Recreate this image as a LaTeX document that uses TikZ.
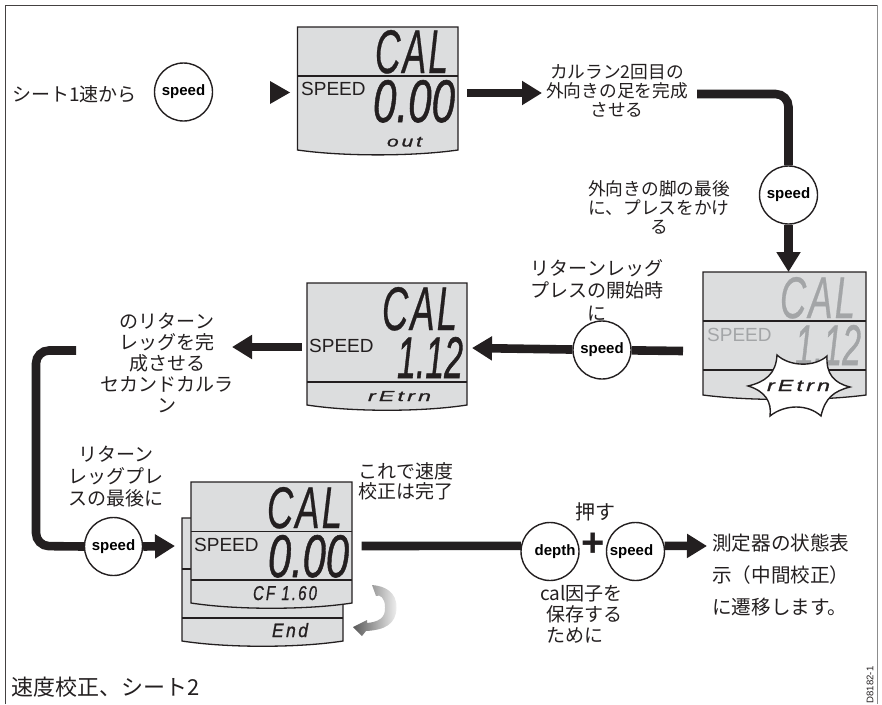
\documentclass[tikz,border=0pt]{standalone}
\usepackage{fontspec}
\usepackage{graphicx}
\usetikzlibrary{arrows.meta}
\setmainfont{Liberation Sans}
\newfontfamily\jp{Noto Sans CJK JP}
\newfontfamily\lcdbig{Liberation Sans}[LetterSpace=6,FakeBold=0.6]
\newfontfamily\lcdval{Liberation Sans}[FakeBold=1]
\newfontfamily\lcdsm{Liberation Sans}[LetterSpace=14,FakeBold=1]
\definecolor{ink}{HTML}{231F20}
\definecolor{lcdbg}{HTML}{DCDDDE}
\definecolor{lcddim}{HTML}{A3A5A7}
\newcommand{\lcdtxt}[7]{\node[lcdtext,text=#6,anchor=north west] (#7) at (#1,#2) {\resizebox{#3pt}{#4pt}{#5}};}
\newcommand{\lcdshape}[5]{\path[lcdpanel] (#1,#2) -- (#3,#2) -- (#3,#4) .. controls ({#3-45},{#4+#5}) and ({#1+45},{#4+#5}) .. (#1,#4) -- cycle;}
\tikzset{
 x=1pt,y=-1pt,
 lcdtext/.style={inner sep=0pt,outer sep=0pt},
 lcdpanel/.style={fill=lcdbg,draw=ink,line width=1.3pt,line join=miter},
 divider/.style={draw=ink,line width=1.1pt},
 btn/.style={circle,draw=ink,fill=white,line width=1.4pt,minimum size=58pt,inner sep=0pt,font=\fontsize{15}{15}\selectfont\bfseries},
 fat/.style={draw=ink,line width=8.6pt,line cap=butt},
 fatarrow/.style={fat,-{Triangle[length=20pt,width=23pt]}},
 jptext/.style={inner sep=0pt,align=center,text=ink,font=\jp\fontsize{19}{#1}\selectfont},
 jptext/.default=21,
 speedlbl/.style={inner sep=0pt,anchor=base west,font=\fontsize{19}{19}\selectfont},
}
\begin{document}
\begin{tikzpicture}
\useasboundingbox (0,0) rectangle (882,704);
% frame
\draw[draw=ink!85,line width=1pt] (5,704) -- (5,5) -- (877,5);
\draw[draw=black!45,line width=1pt] (877,5) -- (877,704);

% display 1
\lcdshape{297.5}{27}{458}{150}{6.5}
\draw[divider] (297.5,76) -- (458,76);
\lcdtxt{375}{30}{73}{43}{\lcdbig\itshape CAL}{ink}{d1cal}
\lcdtxt{373}{80}{82}{42}{\lcdval\itshape 0.00}{ink}{d1val}
\lcdtxt{387}{137}{35}{9.5}{\lcdsm\itshape out}{ink}{d1sub}
\node[speedlbl,text=ink] (d1sp) at (301,95) {SPEED};

% display 2
\lcdshape{307}{283}{467}{405}{7}
\draw[divider] (307,382) -- (467,382);
\lcdtxt{382}{287}{75}{43}{\lcdbig\itshape CAL}{ink}{d2cal}
\lcdtxt{397}{337}{66}{41}{\lcdval\itshape 1.12}{ink}{d2val}
\lcdtxt{368}{391}{63}{10}{\lcdsm\itshape rEtrn}{ink}{d2sub}
\node[speedlbl,text=ink] (d2sp) at (309,352) {SPEED};

% display 4 (flashing)
\lcdshape{703}{272}{866}{395}{6}
\draw[divider] (703,321) -- (866,321);
\draw[divider] (703,370) -- (866,370);
\lcdtxt{780}{277}{75}{41}{\lcdbig\itshape CAL}{lcddim}{d4cal}
\lcdtxt{795}{325}{66}{40}{\lcdval\itshape 1.12}{lcddim}{d4val}
\node[speedlbl,text=lcddim] (d4sp) at (707,341) {SPEED};
\path[fill=white,draw=ink,line width=1.4pt,line join=miter,miter limit=20]
 (748,386) .. controls (765,382) and (776,374) .. (777,355)
 .. controls (790,367) and (815,367) .. (827,356)
 .. controls (826,374) and (834,383) .. (850,387)
 .. controls (834,391) and (825,398) .. (821,416)
 .. controls (808,404) and (785,404) .. (770,416)
 .. controls (772,402) and (765,391) .. (748,386) -- cycle;
\lcdtxt{767}{380}{63}{11}{\lcdsm\itshape rEtrn}{ink}{d4sub}

% display 3, back panel
\lcdshape{182}{518}{343}{641}{7}
\draw[divider] (182,569) -- (191,569);
\draw[divider] (182,618) -- (343,618);
\lcdtxt{272}{623}{36}{14}{\lcdsm\itshape End}{ink}{d3end}
% display 3, front panel
\lcdshape{191}{482}{352}{603}{7}
\draw[divider] (191,531.5) -- (352,531.5);
\draw[divider] (191,580) -- (352,580);
\lcdtxt{267}{487}{75}{41}{\lcdbig\itshape CAL}{ink}{d3cal}
\lcdtxt{268}{535}{81}{42}{\lcdval\itshape 0.00}{ink}{d3val}
\lcdtxt{253}{586}{64}{14}{\lcdsm\itshape CF 1.60}{ink}{d3sub}
\node[speedlbl,text=ink] (d3sp) at (194,551) {SPEED};

% cycling arrow
\path[left color=black!65,right color=black!6]
 (372,585) .. controls (385,586) and (397,592) .. (396.5,608)
 .. controls (396,624) and (385,630) .. (366,631)
 -- (362,636) -- (353,627) -- (367,620) -- (367,623)
 .. controls (378,622) and (386,618) .. (385,607)
 .. controls (385,598) and (380,594) .. (376,596) -- cycle;

% buttons
\node[btn] (btnA) at (183.5,92) {speed};
\node[btn] (btnB) at (788.5,195) {speed};
\node[btn] (btnC) at (602,350) {speed};
\node[btn] (btnE) at (113.5,546.5) {speed};
\node[btn] (btnD) at (550,551.5) {\hspace*{10pt}depth};
\node[btn] (btnF) at (635.5,551.5) {\hspace*{-8pt}speed};

% free connector ends
\coordinate (a1a) at (270,81);
\coordinate (a1b) at (290,92.5);
\coordinate (a1c) at (270,104);
\coordinate (a2s) at (467,93);
\coordinate (a2e) at (542,93);
\coordinate (a3s) at (697,94);
\coordinate (a4e) at (788.5,272);
\coordinate (a5s) at (683,351);
\coordinate (a5e) at (472,348);
\coordinate (a6s) at (302,347);
\coordinate (a6e) at (232,347);
\coordinate (a7s) at (76,350.5);
\coordinate (a7c) at (36,350.5);
\coordinate (a7d) at (36,546);
\coordinate (a8e) at (175,546);
\coordinate (a9s) at (361.5,546);
\coordinate (a10e) at (707,546);

% connectors
\fill[ink] (a1a) -- (a1b) -- (a1c) -- cycle;
\draw[fatarrow] (a2s) -- (a2e);
\draw[fat,rounded corners=13pt] (a3s) -| (btnB);
\draw[fatarrow] (btnB) -- (a4e);
\draw[fat] (a5s) -- (btnC);
\draw[fatarrow] (btnC) -- (a5e);
\draw[fatarrow] (a6s) -- (a6e);
\draw[fat,rounded corners=13pt] (a7s) -- (a7c) -- (a7d) -- (btnE.west);
\draw[fatarrow] (btnE.east) -- (a8e);
\draw[fat] (a9s) -- (btnD.169);
\draw[fatarrow] (btnF.11) -- (a10e);
% plus
\node[inner sep=0pt,text=ink,font=\fontsize{40}{40}\selectfont\bfseries] (plus) at (593,545) {+};

% texts
\node[jptext,anchor=west] (t1) at (12,94) {シート1速から};
\node[jptext=19,font=\jp\fontsize{17.7}{19}\selectfont] (t2) at (617,91) {カルラン2回目の\\外向きの足を完成\\させる};
\node[jptext=19,font=\jp\fontsize{17.7}{19}\selectfont] (t3) at (659,207) {外向きの脚の最後\\に、プレスをかけ\\る};
\node[jptext=22.5] (t4) at (597,290) {リターンレッグ\\プレスの開始時\\に};
\node[jptext=21] (t5) at (167,363) {のリターン\\レッグを完\\成させる\\セカンドカルラ\\ン};
\node[jptext=22] (t6) at (116,477) {リターン\\レッグプレ\\スの最後に};
\node[jptext=20] (t7) at (406,481) {これで速度\\校正は完了};
\node[jptext,font=\jp\fontsize{20}{21}\selectfont] (t8) at (595,512) {押す};
\node[jptext=21,align=left,anchor=west] (t9) at (540,614) {cal因子を\\\hspace*{6pt}保存する\\\hspace*{6pt}ために};
\node[jptext=32,align=left,font=\jp\fontsize{19.6}{32}\selectfont,anchor=west] (t10) at (712,575) {測定器の状態表\\示（中間校正）\\に遷移します。};
\node[jptext,anchor=west,font=\jp\fontsize{22}{22}\selectfont] (t11) at (11,687) {速度校正、シート2};
\node[inner sep=0pt,rotate=90,text=ink,font=\fontsize{9.6}{9.6}\selectfont] (t12) at (870,685) {D8182-1};
\end{tikzpicture}
\end{document}
